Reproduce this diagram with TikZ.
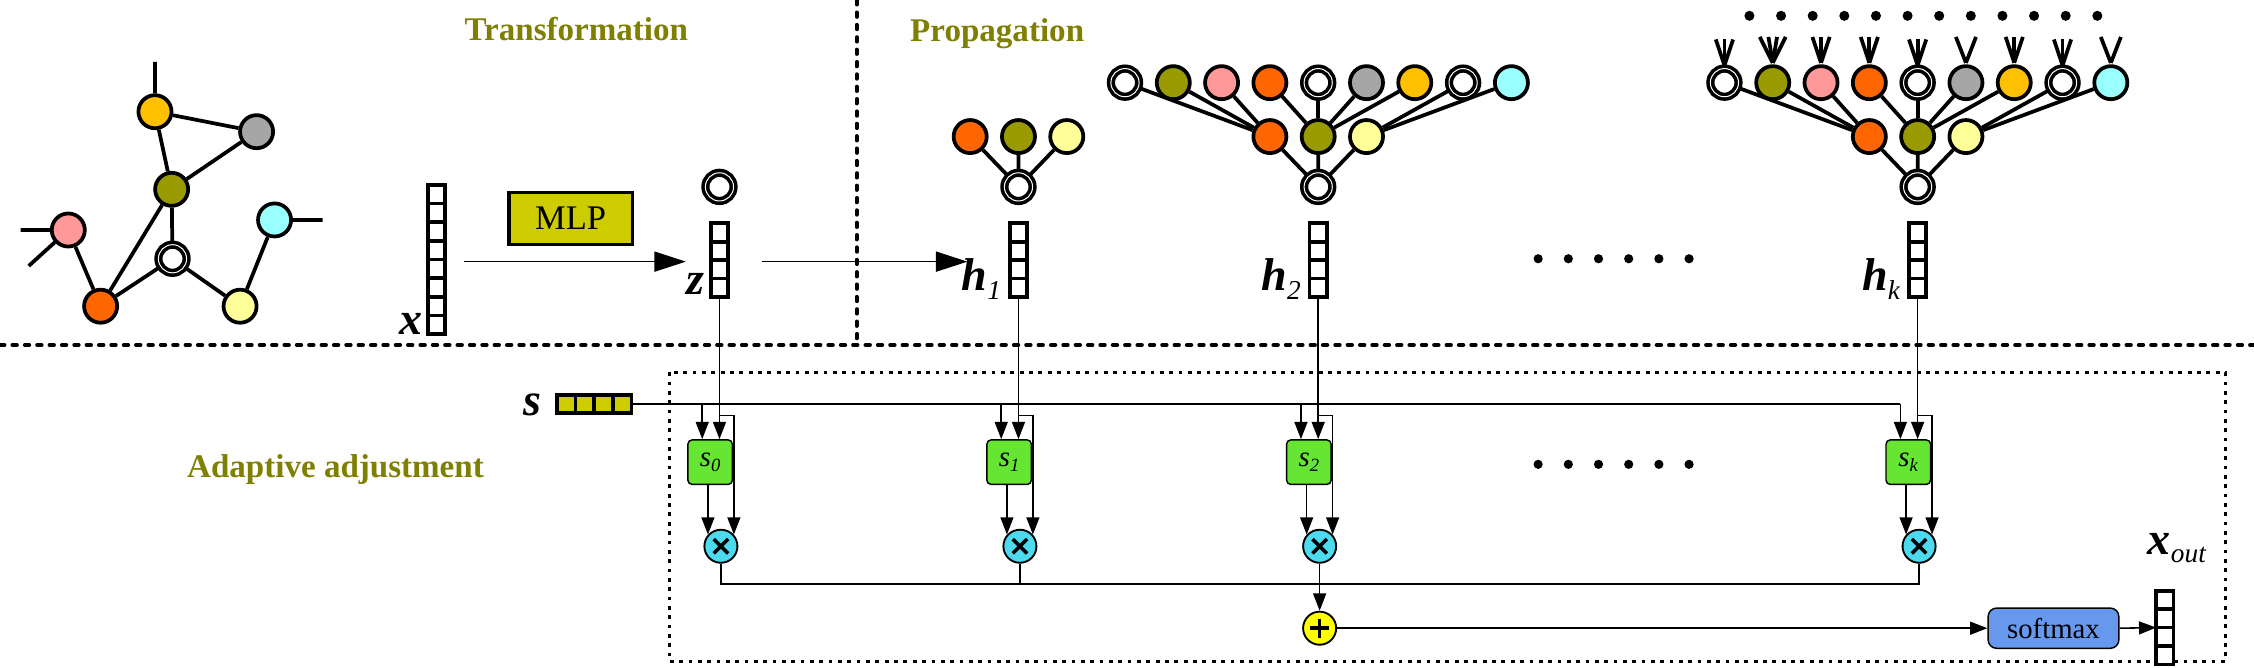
\documentclass[tikz,border=0pt]{standalone}
\usepackage{fontspec}
\setmainfont{Liberation Serif}
\usetikzlibrary{arrows.meta}
\definecolor{cOrange}{HTML}{FF6600}
\definecolor{cOlive}{HTML}{999900}
\definecolor{cYellow}{HTML}{FFC000}
\definecolor{cGray}{HTML}{A6A6A6}
\definecolor{cPink}{HTML}{FF9999}
\definecolor{cCyan}{HTML}{99FFFF}
\definecolor{cLY}{HTML}{FFFF99}
\definecolor{cTitle}{HTML}{7F7F00}
\definecolor{cMLP}{HTML}{CCCC00}
\definecolor{cGreen}{HTML}{66E633}
\definecolor{cMul}{HTML}{4DD9EE}
\definecolor{cPlus}{HTML}{FFFF00}
\definecolor{cSoft}{HTML}{6699EE}

\newcommand{\vcells}[3]{%
  \foreach \k in {1,...,#2} \draw[line width=2.6pt] (#1.north west) ++(0,\k*#3) -- ++(12,0);}

\newcommand{\treeLone}[2]{%
  \node[wn] (#1r) at (#2,130) {};
  \node[gn,fill=cOrange] (#1a) at (#2-33.6,95) {};
  \node[gn,fill=cOlive] (#1b) at (#2,95) {};
  \node[gn,fill=cLY] (#1c) at (#2+33.6,95) {};
  \draw[edge] (#1r) -- (#1a) (#1r) -- (#1b) (#1r) -- (#1c);}

\newcommand{\treeLtwo}[2]{%
  \treeLone{#1}{#2}
  \node[wn] (#1p1) at (#2-134.4,57.5) {};
  \node[gn,fill=cOlive] (#1p2) at (#2-100.8,57.5) {};
  \node[gn,fill=cPink] (#1p3) at (#2-67.2,57.5) {};
  \node[gn,fill=cOrange] (#1p4) at (#2-33.6,57.5) {};
  \node[wn] (#1p5) at (#2,57.5) {};
  \node[gn,fill=cGray] (#1p6) at (#2+33.6,57.5) {};
  \node[gn,fill=cYellow] (#1p7) at (#2+67.2,57.5) {};
  \node[wn] (#1p8) at (#2+100.8,57.5) {};
  \node[gn,fill=cCyan] (#1p9) at (#2+134.4,57.5) {};
  \foreach \j in {1,2,3} \draw[edge] (#1a) -- (#1p\j);
  \foreach \j in {4,5,6,7} \draw[edge] (#1b) -- (#1p\j);
  \foreach \j in {8,9} \draw[edge] (#1c) -- (#1p\j);}

\newcommand{\adjcol}[4]{%
  \node[sblk] (blk#1) at (#2-6.5,321.5) {\textit{s}\raisebox{-3pt}{\fontsize{13}{13}\selectfont\textit{#4}}};
  \node[mulc] (mul#1) at (#2+1,380) {};
  \draw[line width=2.4pt] (mul#1.center) ++(-5,-5) -- ++(10,10) (mul#1.center) ++(-5,5) -- ++(10,-10);
  \draw[smarr] (#3.south) -- (#3.south |- blk#1.north);
  \draw[smarr] (#2-12,281) -- (#2-12,305.5);
  \draw[smarr] (#2,289) -| (mul#1.42);
  \draw[smarr] (blk#1.south -| mul#1.138) -- (mul#1.138);}

\begin{document}
\begin{tikzpicture}[x=1pt,y=-1pt,
  gn/.style={circle,draw=black,line width=2.6pt,minimum size=23pt,inner sep=0pt},
  wn/.style={circle,draw=black,line width=2.5pt,double=white,double distance=0.7pt,fill=white,minimum size=19.6pt,inner sep=0pt},
  edge/.style={line width=2.6pt},
  thinl/.style={line width=1.1pt},
  bigarr/.style={line width=1.1pt,-{Triangle[length=22pt,width=14pt]}},
  smarr/.style={line width=1.1pt,-{Triangle[length=12pt,width=9pt]}},
  vec/.style={draw=black,line width=2.6pt,minimum width=12pt,inner sep=0pt,outer sep=0pt,fill=white},
  ttl/.style={font=\fontsize{23}{23}\selectfont\bfseries,text=cTitle,inner sep=0pt,anchor=base west},
  lbl/.style={font=\fontsize{32}{32}\selectfont\bfseries\itshape,inner sep=0pt,anchor=base east},
  sblk/.style={draw=black,line width=1pt,fill=cGreen,rounded corners=3pt,minimum width=31pt,minimum height=31pt,inner sep=0pt,font=\fontsize{20}{20}\selectfont},
  mulc/.style={circle,draw=black,line width=1.3pt,fill=cMul,minimum size=23pt,inner sep=0pt},
  bigdash/.style={line width=2.6pt,dash pattern=on 3.2pt off 5.4pt,line cap=round},
  finedot/.style={line width=1.9pt,dash pattern=on 2.6pt off 3.9pt}]
\useasboundingbox (0,0) rectangle (1568,464);

% separators
\draw[bigdash] (0,240) -- (1568,240);
\draw[bigdash] (596,0) -- (596,240);
\draw[finedot] (465.5,259) rectangle (1548,460);

% titles
\node[ttl] (tT) at (323,28) {Transformation};
\node[ttl] (tP) at (633,29) {Propagation};
\node[ttl] (tA) at (130,332) {Adaptive adjustment};

% left graph
\node[gn,fill=cYellow] (gY) at (107.8,77.7) {};
\node[gn,fill=cGray] (gG) at (178.5,91.6) {};
\node[gn,fill=cOlive] (gO) at (119.4,131.7) {};
\node[wn] (gW) at (120,180) {};
\node[gn,fill=cCyan] (gC) at (191,153) {};
\node[gn,fill=cPink] (gP) at (47.5,160) {};
\node[gn,fill=cOrange] (gR) at (70,213) {};
\node[gn,fill=cLY] (gL) at (167,213) {};
\coordinate (sY) at (107.8,43);
\coordinate (sC) at (224.5,153);
\coordinate (sP1) at (14.4,160);
\coordinate (sP2) at (20,185);
\draw[edge] (gY) -- (sY) (gC) -- (sC) (gP) -- (sP1) (gP) -- (sP2);
\draw[edge] (gY) -- (gG) (gY) -- (gO) (gG) -- (gO) (gO) -- (gW) (gO) -- (gR)
  (gP) -- (gR) (gW) -- (gR) (gW) -- (gL) (gL) -- (gC);

% x vector, MLP, z
\node[vec,minimum height=104pt] (xv) at (303.5,180.5) {};
\vcells{xv}{7}{13}
\node[lbl] (xl) at (294,233) {x};
\node[draw=black,line width=2.4pt,fill=cMLP,minimum width=86pt,minimum height=36pt,inner sep=0pt,font=\fontsize{24}{24}\selectfont] (mlp) at (397,152) {MLP};
\node[vec,minimum height=51.2pt] (zv) at (500.5,180.9) {};
\vcells{zv}{3}{12.8}
\node[lbl] (zl) at (490,205) {z};
\node[wn] (zr) at (500.5,130) {};
\coordinate (a1s) at (323,182);
\coordinate (a2s) at (530,182);
\draw[bigarr] (a1s) -- (zl.west |- a1s);
\draw[bigarr] (a2s) -- (673,182);

% h vectors and trees
\node[vec,minimum height=51.2pt] (h1v) at (708.5,180.9) {};
\vcells{h1v}{3}{12.8}
\node[lbl] (h1l) at (696.5,202) {h\raisebox{-6pt}{\fontsize{19}{19}\selectfont\mdseries 1}};
\treeLone{t1}{708.5}

\node[vec,minimum height=51.2pt] (h2v) at (917,180.9) {};
\vcells{h2v}{3}{12.8}
\node[lbl] (h2l) at (905,202) {h\raisebox{-6pt}{\fontsize{19}{19}\selectfont\mdseries 2}};
\treeLtwo{t2}{917}

\node[vec,minimum height=51.2pt] (hkv) at (1334,180.9) {};
\vcells{hkv}{3}{12.8}
\node[lbl] (hkl) at (1322,202) {h\raisebox{-6pt}{\fontsize{19}{19}\selectfont\mdseries k}};
\treeLtwo{tk}{1334}

% stubs above hk level 2
\foreach \n/\offs in {1/{-6,0,6},2/{-9,-3,3,9},3/{-6,0,6},4/{-6,0,6},5/{-6,0,6},6/{-7,7},7/{-6,0,6},8/{-6,0,6},9/{-7,7}}{
  \foreach \o in \offs { \draw[edge] ([yshift=1pt]tkp\n.north) -- ++(\o,-18); }
}
\foreach \i in {0,...,11} \fill (1217+\i*22,11) circle (3.5pt);
\foreach \i in {0,...,5} \fill (1070+\i*21,180) circle (3.2pt);
\foreach \i in {0,...,5} \fill (1070+\i*21,323) circle (3.2pt);

% adaptive adjustment
\node[vec,minimum width=52pt,minimum height=12.9pt,fill=cMLP] (sv) at (413.3,281) {};
\foreach \k in {1,2,3} \draw[line width=2.6pt] (sv.north west) ++(\k*13,0) -- ++(0,12.9);
\node[lbl] (sl) at (377,289) {s};
\draw[thinl] (sv.east) -- (1322,281);

\adjcol{0}{500.5}{zv}{0}
\adjcol{1}{708.5}{h1v}{1}
\adjcol{2}{917}{h2v}{2}
\adjcol{k}{1334}{hkv}{k}

\node[circle,draw=black,line width=1.3pt,fill=cPlus,minimum size=23pt,inner sep=0pt] (plus) at (918,437) {};
\draw[line width=2.4pt] (plus.center) ++(-6.5,0) -- ++(13,0) (plus.center) ++(0,-6.5) -- ++(0,13);
\draw[thinl] (mul0.south) -- ++(0,14) -| (mulk.south);
\draw[thinl] (mul1.south) -- ++(0,14);
\draw[smarr] (mul2.south) -- (plus.north);

\node[draw=black,line width=1pt,fill=cSoft,rounded corners=6pt,minimum width=91pt,minimum height=28pt,inner sep=0pt,font=\fontsize{20}{20}\selectfont] (soft) at (1428.5,437) {softmax};
\node[vec,minimum height=51.2pt] (xo) at (1506,436.6) {};
\vcells{xo}{3}{12.8}
\node[inner sep=0pt,anchor=base west,font=\fontsize{32}{32}\selectfont\bfseries\itshape] (xol) at (1494,386) {x\raisebox{-5pt}{\fontsize{19}{19}\selectfont\mdseries out}};
\draw[smarr] (plus.east) -- (soft.west);
\draw[smarr] (soft.east) -- (xo.west);
\end{tikzpicture}
\end{document}
